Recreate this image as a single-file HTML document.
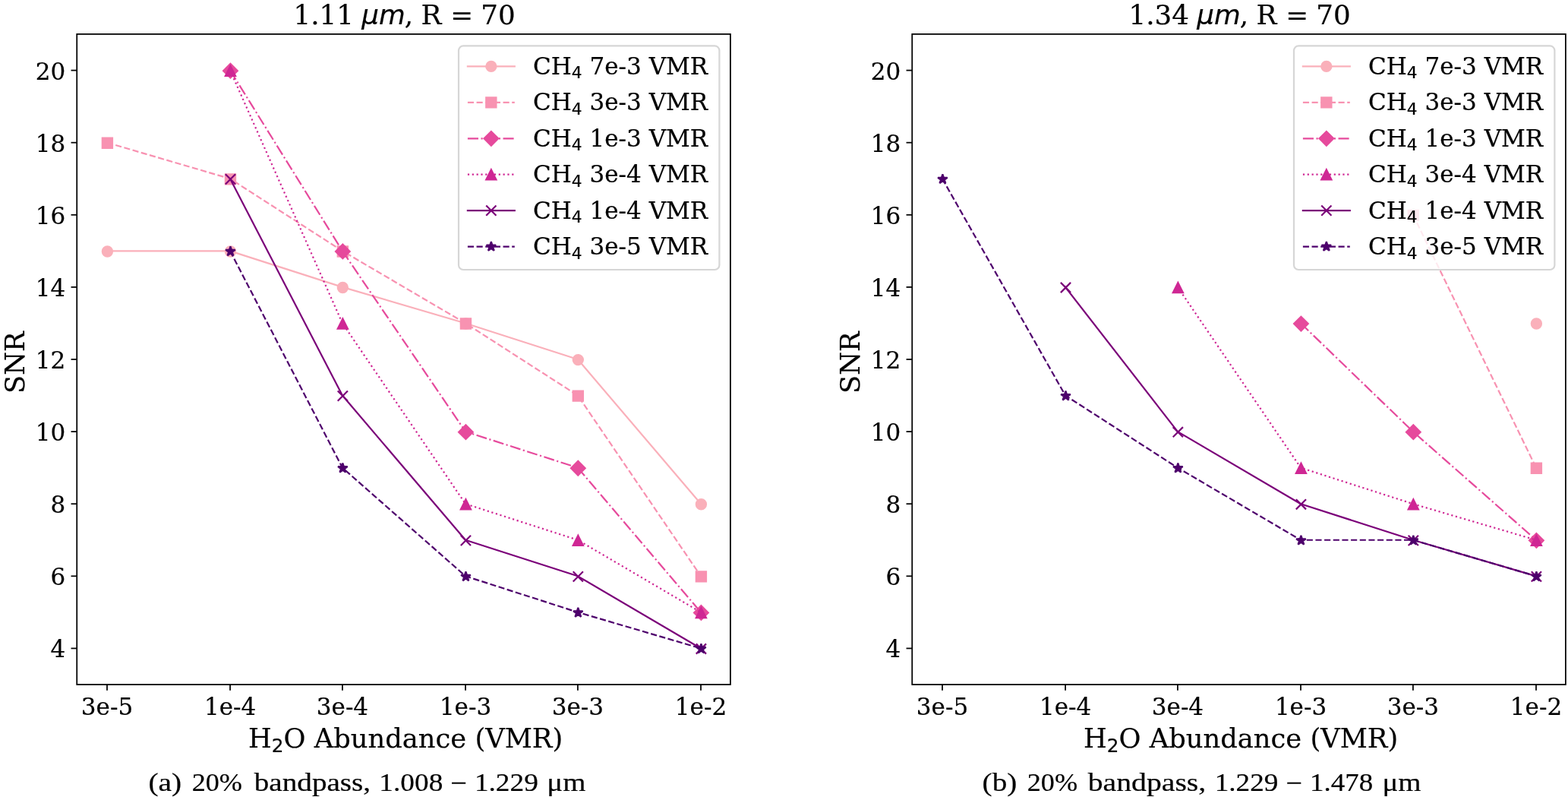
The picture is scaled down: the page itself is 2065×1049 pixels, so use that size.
<!DOCTYPE html>
<html><head><meta charset="utf-8"><title>SNR vs H2O Abundance</title>
<style>html,body{margin:0;padding:0;background:#fff;overflow:hidden;}svg{display:block;}text{fill:#000;stroke:#000;stroke-width:0.2px;}</style>
</head><body>
<svg width="2065" height="1049" viewBox="0 0 2065 1049">
<rect width="2065" height="1049" fill="#ffffff"/>
<g id="axes1">
<clipPath id="clip0"><rect x="101.25" y="44.9" width="860.65" height="856.1"/></clipPath>
<g clip-path="url(#clip0)">
<path d="M141.00 330.35L303.07 330.35L450.96 377.90L613.03 425.45L760.92 473.00L922.99 663.20" fill="none" stroke="#fab0ba" stroke-width="2.2" stroke-linecap="square" stroke-linejoin="round"/>
<circle cx="141.40" cy="330.95" r="6.6000000000000005" fill="#fab0ba" stroke="#fab0ba" stroke-width="2.2"/>
<circle cx="303.47" cy="330.95" r="6.6000000000000005" fill="#fab0ba" stroke="#fab0ba" stroke-width="2.2"/>
<circle cx="451.36" cy="378.50" r="6.6000000000000005" fill="#fab0ba" stroke="#fab0ba" stroke-width="2.2"/>
<circle cx="613.43" cy="426.05" r="6.6000000000000005" fill="#fab0ba" stroke="#fab0ba" stroke-width="2.2"/>
<circle cx="761.32" cy="473.60" r="6.6000000000000005" fill="#fab0ba" stroke="#fab0ba" stroke-width="2.2"/>
<circle cx="923.39" cy="663.80" r="6.6000000000000005" fill="#fab0ba" stroke="#fab0ba" stroke-width="2.2"/>
<path d="M141.00 187.70L303.07 235.25L450.96 330.35L613.03 425.45L760.92 520.55L922.99 758.30" fill="none" stroke="#f892b1" stroke-width="2.2" stroke-dasharray="8.140,3.520" stroke-linejoin="round"/>
<path transform="translate(141.40 188.30)" d="M-6.6000000000000005 6.6000000000000005L6.6000000000000005 6.6000000000000005L6.6000000000000005 -6.6000000000000005L-6.6000000000000005 -6.6000000000000005Z" fill="#f892b1" stroke="#f892b1" stroke-width="2.2" stroke-linejoin="miter"/>
<path transform="translate(303.47 235.85)" d="M-6.6000000000000005 6.6000000000000005L6.6000000000000005 6.6000000000000005L6.6000000000000005 -6.6000000000000005L-6.6000000000000005 -6.6000000000000005Z" fill="#f892b1" stroke="#f892b1" stroke-width="2.2" stroke-linejoin="miter"/>
<path transform="translate(451.36 330.95)" d="M-6.6000000000000005 6.6000000000000005L6.6000000000000005 6.6000000000000005L6.6000000000000005 -6.6000000000000005L-6.6000000000000005 -6.6000000000000005Z" fill="#f892b1" stroke="#f892b1" stroke-width="2.2" stroke-linejoin="miter"/>
<path transform="translate(613.43 426.05)" d="M-6.6000000000000005 6.6000000000000005L6.6000000000000005 6.6000000000000005L6.6000000000000005 -6.6000000000000005L-6.6000000000000005 -6.6000000000000005Z" fill="#f892b1" stroke="#f892b1" stroke-width="2.2" stroke-linejoin="miter"/>
<path transform="translate(761.32 521.15)" d="M-6.6000000000000005 6.6000000000000005L6.6000000000000005 6.6000000000000005L6.6000000000000005 -6.6000000000000005L-6.6000000000000005 -6.6000000000000005Z" fill="#f892b1" stroke="#f892b1" stroke-width="2.2" stroke-linejoin="miter"/>
<path transform="translate(923.39 758.90)" d="M-6.6000000000000005 6.6000000000000005L6.6000000000000005 6.6000000000000005L6.6000000000000005 -6.6000000000000005L-6.6000000000000005 -6.6000000000000005Z" fill="#f892b1" stroke="#f892b1" stroke-width="2.2" stroke-linejoin="miter"/>
<path d="M303.07 92.60L450.96 330.35L613.03 568.10L760.92 615.65L922.99 805.85" fill="none" stroke="#e64a9c" stroke-width="2.2" stroke-dasharray="14.080,3.520,2.200,3.520" stroke-linejoin="round"/>
<path transform="translate(303.47 93.20)" d="M0 9.334L9.334 0L0 -9.334L-9.334 0Z" fill="#e64a9c" stroke="#e64a9c" stroke-width="2.2" stroke-linejoin="miter"/>
<path transform="translate(451.36 330.95)" d="M0 9.334L9.334 0L0 -9.334L-9.334 0Z" fill="#e64a9c" stroke="#e64a9c" stroke-width="2.2" stroke-linejoin="miter"/>
<path transform="translate(613.43 568.70)" d="M0 9.334L9.334 0L0 -9.334L-9.334 0Z" fill="#e64a9c" stroke="#e64a9c" stroke-width="2.2" stroke-linejoin="miter"/>
<path transform="translate(761.32 616.25)" d="M0 9.334L9.334 0L0 -9.334L-9.334 0Z" fill="#e64a9c" stroke="#e64a9c" stroke-width="2.2" stroke-linejoin="miter"/>
<path transform="translate(923.39 806.45)" d="M0 9.334L9.334 0L0 -9.334L-9.334 0Z" fill="#e64a9c" stroke="#e64a9c" stroke-width="2.2" stroke-linejoin="miter"/>
<path d="M303.07 92.60L450.96 425.45L613.03 663.20L760.92 710.75L922.99 805.85" fill="none" stroke="#cf2794" stroke-width="2.2" stroke-dasharray="2.200,3.630" stroke-linejoin="round"/>
<path transform="translate(303.47 93.20)" d="M0 -6.6000000000000005L-6.6000000000000005 6.6000000000000005L6.6000000000000005 6.6000000000000005Z" fill="#cf2794" stroke="#cf2794" stroke-width="2.2" stroke-linejoin="miter"/>
<path transform="translate(451.36 426.05)" d="M0 -6.6000000000000005L-6.6000000000000005 6.6000000000000005L6.6000000000000005 6.6000000000000005Z" fill="#cf2794" stroke="#cf2794" stroke-width="2.2" stroke-linejoin="miter"/>
<path transform="translate(613.43 663.80)" d="M0 -6.6000000000000005L-6.6000000000000005 6.6000000000000005L6.6000000000000005 6.6000000000000005Z" fill="#cf2794" stroke="#cf2794" stroke-width="2.2" stroke-linejoin="miter"/>
<path transform="translate(761.32 711.35)" d="M0 -6.6000000000000005L-6.6000000000000005 6.6000000000000005L6.6000000000000005 6.6000000000000005Z" fill="#cf2794" stroke="#cf2794" stroke-width="2.2" stroke-linejoin="miter"/>
<path transform="translate(923.39 806.45)" d="M0 -6.6000000000000005L-6.6000000000000005 6.6000000000000005L6.6000000000000005 6.6000000000000005Z" fill="#cf2794" stroke="#cf2794" stroke-width="2.2" stroke-linejoin="miter"/>
<path d="M303.07 235.25L450.96 520.55L613.03 710.75L760.92 758.30L922.99 853.40" fill="none" stroke="#7b0179" stroke-width="2.2" stroke-linecap="square" stroke-linejoin="round"/>
<path transform="translate(303.47 235.85)" d="M-6.6000000000000005 6.6000000000000005L6.6000000000000005 -6.6000000000000005M-6.6000000000000005 -6.6000000000000005L6.6000000000000005 6.6000000000000005" fill="none" stroke="#7b0179" stroke-width="2.2" stroke-linejoin="round"/>
<path transform="translate(451.36 521.15)" d="M-6.6000000000000005 6.6000000000000005L6.6000000000000005 -6.6000000000000005M-6.6000000000000005 -6.6000000000000005L6.6000000000000005 6.6000000000000005" fill="none" stroke="#7b0179" stroke-width="2.2" stroke-linejoin="round"/>
<path transform="translate(613.43 711.35)" d="M-6.6000000000000005 6.6000000000000005L6.6000000000000005 -6.6000000000000005M-6.6000000000000005 -6.6000000000000005L6.6000000000000005 6.6000000000000005" fill="none" stroke="#7b0179" stroke-width="2.2" stroke-linejoin="round"/>
<path transform="translate(761.32 758.90)" d="M-6.6000000000000005 6.6000000000000005L6.6000000000000005 -6.6000000000000005M-6.6000000000000005 -6.6000000000000005L6.6000000000000005 6.6000000000000005" fill="none" stroke="#7b0179" stroke-width="2.2" stroke-linejoin="round"/>
<path transform="translate(923.39 854.00)" d="M-6.6000000000000005 6.6000000000000005L6.6000000000000005 -6.6000000000000005M-6.6000000000000005 -6.6000000000000005L6.6000000000000005 6.6000000000000005" fill="none" stroke="#7b0179" stroke-width="2.2" stroke-linejoin="round"/>
<path d="M303.07 330.35L450.96 615.65L613.03 758.30L760.92 805.85L922.99 853.40" fill="none" stroke="#4e006c" stroke-width="2.2" stroke-dasharray="8.140,3.520" stroke-linejoin="round"/>
<path transform="translate(303.47 330.95)" d="M0.000 -6.600L-1.482 -2.040L-6.277 -2.040L-2.398 0.779L-3.879 5.340L0.000 2.521L3.879 5.340L2.398 0.779L6.277 -2.040L1.482 -2.040Z" fill="#4e006c" stroke="#4e006c" stroke-width="2.2" stroke-linejoin="bevel"/>
<path transform="translate(451.36 616.25)" d="M0.000 -6.600L-1.482 -2.040L-6.277 -2.040L-2.398 0.779L-3.879 5.340L0.000 2.521L3.879 5.340L2.398 0.779L6.277 -2.040L1.482 -2.040Z" fill="#4e006c" stroke="#4e006c" stroke-width="2.2" stroke-linejoin="bevel"/>
<path transform="translate(613.43 758.90)" d="M0.000 -6.600L-1.482 -2.040L-6.277 -2.040L-2.398 0.779L-3.879 5.340L0.000 2.521L3.879 5.340L2.398 0.779L6.277 -2.040L1.482 -2.040Z" fill="#4e006c" stroke="#4e006c" stroke-width="2.2" stroke-linejoin="bevel"/>
<path transform="translate(761.32 806.45)" d="M0.000 -6.600L-1.482 -2.040L-6.277 -2.040L-2.398 0.779L-3.879 5.340L0.000 2.521L3.879 5.340L2.398 0.779L6.277 -2.040L1.482 -2.040Z" fill="#4e006c" stroke="#4e006c" stroke-width="2.2" stroke-linejoin="bevel"/>
<path transform="translate(923.39 854.00)" d="M0.000 -6.600L-1.482 -2.040L-6.277 -2.040L-2.398 0.779L-3.879 5.340L0.000 2.521L3.879 5.340L2.398 0.779L6.277 -2.040L1.482 -2.040Z" fill="#4e006c" stroke="#4e006c" stroke-width="2.2" stroke-linejoin="bevel"/>
</g>
<rect x="101.25" y="44.9" width="860.65" height="856.1" fill="none" stroke="#000" stroke-width="1.76" stroke-linejoin="miter" stroke-linecap="square"/>
<line x1="141.00" y1="901.0" x2="141.00" y2="908.7" stroke="#000" stroke-width="1.76"/>
<text x="141.00" y="940.6" font-family="'DejaVu Serif', 'Liberation Serif', serif" font-size="31" text-anchor="middle">3e-5</text>
<line x1="303.07" y1="901.0" x2="303.07" y2="908.7" stroke="#000" stroke-width="1.76"/>
<text x="303.07" y="940.6" font-family="'DejaVu Serif', 'Liberation Serif', serif" font-size="31" text-anchor="middle">1e-4</text>
<line x1="450.96" y1="901.0" x2="450.96" y2="908.7" stroke="#000" stroke-width="1.76"/>
<text x="450.96" y="940.6" font-family="'DejaVu Serif', 'Liberation Serif', serif" font-size="31" text-anchor="middle">3e-4</text>
<line x1="613.03" y1="901.0" x2="613.03" y2="908.7" stroke="#000" stroke-width="1.76"/>
<text x="613.03" y="940.6" font-family="'DejaVu Serif', 'Liberation Serif', serif" font-size="31" text-anchor="middle">1e-3</text>
<line x1="760.92" y1="901.0" x2="760.92" y2="908.7" stroke="#000" stroke-width="1.76"/>
<text x="760.92" y="940.6" font-family="'DejaVu Serif', 'Liberation Serif', serif" font-size="31" text-anchor="middle">3e-3</text>
<line x1="922.99" y1="901.0" x2="922.99" y2="908.7" stroke="#000" stroke-width="1.76"/>
<text x="922.99" y="940.6" font-family="'DejaVu Serif', 'Liberation Serif', serif" font-size="31" text-anchor="middle">1e-2</text>
<line x1="101.25" y1="853.40" x2="93.55" y2="853.40" stroke="#000" stroke-width="1.76"/>
<text x="86.3" y="865.30" font-family="'DejaVu Serif', 'Liberation Serif', serif" font-size="31" text-anchor="end">4</text>
<line x1="101.25" y1="758.30" x2="93.55" y2="758.30" stroke="#000" stroke-width="1.76"/>
<text x="86.3" y="770.20" font-family="'DejaVu Serif', 'Liberation Serif', serif" font-size="31" text-anchor="end">6</text>
<line x1="101.25" y1="663.20" x2="93.55" y2="663.20" stroke="#000" stroke-width="1.76"/>
<text x="86.3" y="675.10" font-family="'DejaVu Serif', 'Liberation Serif', serif" font-size="31" text-anchor="end">8</text>
<line x1="101.25" y1="568.10" x2="93.55" y2="568.10" stroke="#000" stroke-width="1.76"/>
<text x="86.3" y="580.00" font-family="'DejaVu Serif', 'Liberation Serif', serif" font-size="31" text-anchor="end">10</text>
<line x1="101.25" y1="473.00" x2="93.55" y2="473.00" stroke="#000" stroke-width="1.76"/>
<text x="86.3" y="484.90" font-family="'DejaVu Serif', 'Liberation Serif', serif" font-size="31" text-anchor="end">12</text>
<line x1="101.25" y1="377.90" x2="93.55" y2="377.90" stroke="#000" stroke-width="1.76"/>
<text x="86.3" y="389.80" font-family="'DejaVu Serif', 'Liberation Serif', serif" font-size="31" text-anchor="end">14</text>
<line x1="101.25" y1="282.80" x2="93.55" y2="282.80" stroke="#000" stroke-width="1.76"/>
<text x="86.3" y="294.70" font-family="'DejaVu Serif', 'Liberation Serif', serif" font-size="31" text-anchor="end">16</text>
<line x1="101.25" y1="187.70" x2="93.55" y2="187.70" stroke="#000" stroke-width="1.76"/>
<text x="86.3" y="199.60" font-family="'DejaVu Serif', 'Liberation Serif', serif" font-size="31" text-anchor="end">18</text>
<line x1="101.25" y1="92.60" x2="93.55" y2="92.60" stroke="#000" stroke-width="1.76"/>
<text x="86.3" y="104.50" font-family="'DejaVu Serif', 'Liberation Serif', serif" font-size="31" text-anchor="end">20</text>
<text x="327.0" y="984.2" font-family="'DejaVu Serif', 'Liberation Serif', serif" font-size="35.3">H<tspan font-family="'DejaVu Sans', 'Liberation Sans', sans-serif" font-size="24.71" dy="6.0">2</tspan><tspan dy="-6.0">O Abundance (VMR)</tspan></text>
<text transform="translate(32.0 477.2) rotate(-90)" font-family="'DejaVu Serif', 'Liberation Serif', serif" font-size="35.3" text-anchor="middle">SNR</text>
<text y="31.9" font-family="'DejaVu Serif', 'Liberation Serif', serif" font-size="35.7"><tspan x="386.44">1.11 </tspan><tspan x="476.29" font-family="'DejaVu Sans', 'Liberation Sans', sans-serif" font-style="italic">μm</tspan><tspan x="532.83">, </tspan><tspan x="554.61">R </tspan><tspan x="593.32">= </tspan><tspan x="633.20">70</tspan></text>
<rect x="604.0" y="60.4" width="343.4" height="294.6" rx="6.16" fill="#ffffff" fill-opacity="0.8" stroke="#cccccc" stroke-opacity="0.8" stroke-width="2.2"/>
<path d="M615.90 87.40L677.80 87.40" fill="none" stroke="#fab0ba" stroke-width="2.2" stroke-linecap="square" stroke-linejoin="round"/>
<circle cx="646.85" cy="87.40" r="6.6000000000000005" fill="#fab0ba" stroke="#fab0ba" stroke-width="2.2"/>
<text x="702.1" y="98.00" font-family="'DejaVu Serif', 'Liberation Serif', serif" font-size="31">CH<tspan font-family="'DejaVu Sans', 'Liberation Sans', sans-serif" font-size="21.70" dy="5.4">4</tspan><tspan dy="-5.4"> 7e-3 VMR</tspan></text>
<path d="M615.90 134.84L677.80 134.84" fill="none" stroke="#f892b1" stroke-width="2.2" stroke-dasharray="8.140,3.520" stroke-linejoin="round"/>
<path transform="translate(646.85 134.84)" d="M-6.6000000000000005 6.6000000000000005L6.6000000000000005 6.6000000000000005L6.6000000000000005 -6.6000000000000005L-6.6000000000000005 -6.6000000000000005Z" fill="#f892b1" stroke="#f892b1" stroke-width="2.2" stroke-linejoin="miter"/>
<text x="702.1" y="145.44" font-family="'DejaVu Serif', 'Liberation Serif', serif" font-size="31">CH<tspan font-family="'DejaVu Sans', 'Liberation Sans', sans-serif" font-size="21.70" dy="5.4">4</tspan><tspan dy="-5.4"> 3e-3 VMR</tspan></text>
<path d="M615.90 182.28L677.80 182.28" fill="none" stroke="#e64a9c" stroke-width="2.2" stroke-dasharray="14.080,3.520,2.200,3.520" stroke-linejoin="round"/>
<path transform="translate(646.85 182.28)" d="M0 9.334L9.334 0L0 -9.334L-9.334 0Z" fill="#e64a9c" stroke="#e64a9c" stroke-width="2.2" stroke-linejoin="miter"/>
<text x="702.1" y="192.88" font-family="'DejaVu Serif', 'Liberation Serif', serif" font-size="31">CH<tspan font-family="'DejaVu Sans', 'Liberation Sans', sans-serif" font-size="21.70" dy="5.4">4</tspan><tspan dy="-5.4"> 1e-3 VMR</tspan></text>
<path d="M615.90 229.72L677.80 229.72" fill="none" stroke="#cf2794" stroke-width="2.2" stroke-dasharray="2.200,3.630" stroke-linejoin="round"/>
<path transform="translate(646.85 229.72)" d="M0 -6.6000000000000005L-6.6000000000000005 6.6000000000000005L6.6000000000000005 6.6000000000000005Z" fill="#cf2794" stroke="#cf2794" stroke-width="2.2" stroke-linejoin="miter"/>
<text x="702.1" y="240.32" font-family="'DejaVu Serif', 'Liberation Serif', serif" font-size="31">CH<tspan font-family="'DejaVu Sans', 'Liberation Sans', sans-serif" font-size="21.70" dy="5.4">4</tspan><tspan dy="-5.4"> 3e-4 VMR</tspan></text>
<path d="M615.90 277.16L677.80 277.16" fill="none" stroke="#7b0179" stroke-width="2.2" stroke-linecap="square" stroke-linejoin="round"/>
<path transform="translate(646.85 277.16)" d="M-6.6000000000000005 6.6000000000000005L6.6000000000000005 -6.6000000000000005M-6.6000000000000005 -6.6000000000000005L6.6000000000000005 6.6000000000000005" fill="none" stroke="#7b0179" stroke-width="2.2" stroke-linejoin="round"/>
<text x="702.1" y="287.76" font-family="'DejaVu Serif', 'Liberation Serif', serif" font-size="31">CH<tspan font-family="'DejaVu Sans', 'Liberation Sans', sans-serif" font-size="21.70" dy="5.4">4</tspan><tspan dy="-5.4"> 1e-4 VMR</tspan></text>
<path d="M615.90 324.60L677.80 324.60" fill="none" stroke="#4e006c" stroke-width="2.2" stroke-dasharray="8.140,3.520" stroke-linejoin="round"/>
<path transform="translate(646.85 324.60)" d="M0.000 -6.600L-1.482 -2.040L-6.277 -2.040L-2.398 0.779L-3.879 5.340L0.000 2.521L3.879 5.340L2.398 0.779L6.277 -2.040L1.482 -2.040Z" fill="#4e006c" stroke="#4e006c" stroke-width="2.2" stroke-linejoin="bevel"/>
<text x="702.1" y="335.20" font-family="'DejaVu Serif', 'Liberation Serif', serif" font-size="31">CH<tspan font-family="'DejaVu Sans', 'Liberation Sans', sans-serif" font-size="21.70" dy="5.4">4</tspan><tspan dy="-5.4"> 3e-5 VMR</tspan></text>
</g>
<g id="axes2">
<clipPath id="clip1"><rect x="1201.25" y="44.9" width="860.65" height="856.1"/></clipPath>
<g clip-path="url(#clip1)">
<circle cx="2023.39" cy="426.05" r="6.6000000000000005" fill="#fab0ba" stroke="#fab0ba" stroke-width="2.2"/>
<path d="M1860.92 282.80L2022.99 615.65" fill="none" stroke="#f892b1" stroke-width="2.2" stroke-dasharray="8.140,3.520" stroke-linejoin="round"/>
<path transform="translate(1861.32 283.40)" d="M-6.6000000000000005 6.6000000000000005L6.6000000000000005 6.6000000000000005L6.6000000000000005 -6.6000000000000005L-6.6000000000000005 -6.6000000000000005Z" fill="#f892b1" stroke="#f892b1" stroke-width="2.2" stroke-linejoin="miter"/>
<path transform="translate(2023.39 616.25)" d="M-6.6000000000000005 6.6000000000000005L6.6000000000000005 6.6000000000000005L6.6000000000000005 -6.6000000000000005L-6.6000000000000005 -6.6000000000000005Z" fill="#f892b1" stroke="#f892b1" stroke-width="2.2" stroke-linejoin="miter"/>
<path d="M1713.03 425.45L1860.92 568.10L2022.99 710.75" fill="none" stroke="#e64a9c" stroke-width="2.2" stroke-dasharray="14.080,3.520,2.200,3.520" stroke-linejoin="round"/>
<path transform="translate(1713.43 426.05)" d="M0 9.334L9.334 0L0 -9.334L-9.334 0Z" fill="#e64a9c" stroke="#e64a9c" stroke-width="2.2" stroke-linejoin="miter"/>
<path transform="translate(1861.32 568.70)" d="M0 9.334L9.334 0L0 -9.334L-9.334 0Z" fill="#e64a9c" stroke="#e64a9c" stroke-width="2.2" stroke-linejoin="miter"/>
<path transform="translate(2023.39 711.35)" d="M0 9.334L9.334 0L0 -9.334L-9.334 0Z" fill="#e64a9c" stroke="#e64a9c" stroke-width="2.2" stroke-linejoin="miter"/>
<path d="M1550.96 377.90L1713.03 615.65L1860.92 663.20L2022.99 710.75" fill="none" stroke="#cf2794" stroke-width="2.2" stroke-dasharray="2.200,3.630" stroke-linejoin="round"/>
<path transform="translate(1551.36 378.50)" d="M0 -6.6000000000000005L-6.6000000000000005 6.6000000000000005L6.6000000000000005 6.6000000000000005Z" fill="#cf2794" stroke="#cf2794" stroke-width="2.2" stroke-linejoin="miter"/>
<path transform="translate(1713.43 616.25)" d="M0 -6.6000000000000005L-6.6000000000000005 6.6000000000000005L6.6000000000000005 6.6000000000000005Z" fill="#cf2794" stroke="#cf2794" stroke-width="2.2" stroke-linejoin="miter"/>
<path transform="translate(1861.32 663.80)" d="M0 -6.6000000000000005L-6.6000000000000005 6.6000000000000005L6.6000000000000005 6.6000000000000005Z" fill="#cf2794" stroke="#cf2794" stroke-width="2.2" stroke-linejoin="miter"/>
<path transform="translate(2023.39 711.35)" d="M0 -6.6000000000000005L-6.6000000000000005 6.6000000000000005L6.6000000000000005 6.6000000000000005Z" fill="#cf2794" stroke="#cf2794" stroke-width="2.2" stroke-linejoin="miter"/>
<path d="M1403.07 377.90L1550.96 568.10L1713.03 663.20L1860.92 710.75L2022.99 758.30" fill="none" stroke="#7b0179" stroke-width="2.2" stroke-linecap="square" stroke-linejoin="round"/>
<path transform="translate(1403.47 378.50)" d="M-6.6000000000000005 6.6000000000000005L6.6000000000000005 -6.6000000000000005M-6.6000000000000005 -6.6000000000000005L6.6000000000000005 6.6000000000000005" fill="none" stroke="#7b0179" stroke-width="2.2" stroke-linejoin="round"/>
<path transform="translate(1551.36 568.70)" d="M-6.6000000000000005 6.6000000000000005L6.6000000000000005 -6.6000000000000005M-6.6000000000000005 -6.6000000000000005L6.6000000000000005 6.6000000000000005" fill="none" stroke="#7b0179" stroke-width="2.2" stroke-linejoin="round"/>
<path transform="translate(1713.43 663.80)" d="M-6.6000000000000005 6.6000000000000005L6.6000000000000005 -6.6000000000000005M-6.6000000000000005 -6.6000000000000005L6.6000000000000005 6.6000000000000005" fill="none" stroke="#7b0179" stroke-width="2.2" stroke-linejoin="round"/>
<path transform="translate(1861.32 711.35)" d="M-6.6000000000000005 6.6000000000000005L6.6000000000000005 -6.6000000000000005M-6.6000000000000005 -6.6000000000000005L6.6000000000000005 6.6000000000000005" fill="none" stroke="#7b0179" stroke-width="2.2" stroke-linejoin="round"/>
<path transform="translate(2023.39 758.90)" d="M-6.6000000000000005 6.6000000000000005L6.6000000000000005 -6.6000000000000005M-6.6000000000000005 -6.6000000000000005L6.6000000000000005 6.6000000000000005" fill="none" stroke="#7b0179" stroke-width="2.2" stroke-linejoin="round"/>
<path d="M1241.00 235.25L1403.07 520.55L1550.96 615.65L1713.03 710.75L1860.92 710.75L2022.99 758.30" fill="none" stroke="#4e006c" stroke-width="2.2" stroke-dasharray="8.140,3.520" stroke-linejoin="round"/>
<path transform="translate(1241.40 235.85)" d="M0.000 -6.600L-1.482 -2.040L-6.277 -2.040L-2.398 0.779L-3.879 5.340L0.000 2.521L3.879 5.340L2.398 0.779L6.277 -2.040L1.482 -2.040Z" fill="#4e006c" stroke="#4e006c" stroke-width="2.2" stroke-linejoin="bevel"/>
<path transform="translate(1403.47 521.15)" d="M0.000 -6.600L-1.482 -2.040L-6.277 -2.040L-2.398 0.779L-3.879 5.340L0.000 2.521L3.879 5.340L2.398 0.779L6.277 -2.040L1.482 -2.040Z" fill="#4e006c" stroke="#4e006c" stroke-width="2.2" stroke-linejoin="bevel"/>
<path transform="translate(1551.36 616.25)" d="M0.000 -6.600L-1.482 -2.040L-6.277 -2.040L-2.398 0.779L-3.879 5.340L0.000 2.521L3.879 5.340L2.398 0.779L6.277 -2.040L1.482 -2.040Z" fill="#4e006c" stroke="#4e006c" stroke-width="2.2" stroke-linejoin="bevel"/>
<path transform="translate(1713.43 711.35)" d="M0.000 -6.600L-1.482 -2.040L-6.277 -2.040L-2.398 0.779L-3.879 5.340L0.000 2.521L3.879 5.340L2.398 0.779L6.277 -2.040L1.482 -2.040Z" fill="#4e006c" stroke="#4e006c" stroke-width="2.2" stroke-linejoin="bevel"/>
<path transform="translate(1861.32 711.35)" d="M0.000 -6.600L-1.482 -2.040L-6.277 -2.040L-2.398 0.779L-3.879 5.340L0.000 2.521L3.879 5.340L2.398 0.779L6.277 -2.040L1.482 -2.040Z" fill="#4e006c" stroke="#4e006c" stroke-width="2.2" stroke-linejoin="bevel"/>
<path transform="translate(2023.39 758.90)" d="M0.000 -6.600L-1.482 -2.040L-6.277 -2.040L-2.398 0.779L-3.879 5.340L0.000 2.521L3.879 5.340L2.398 0.779L6.277 -2.040L1.482 -2.040Z" fill="#4e006c" stroke="#4e006c" stroke-width="2.2" stroke-linejoin="bevel"/>
</g>
<rect x="1201.25" y="44.9" width="860.65" height="856.1" fill="none" stroke="#000" stroke-width="1.76" stroke-linejoin="miter" stroke-linecap="square"/>
<line x1="1241.00" y1="901.0" x2="1241.00" y2="908.7" stroke="#000" stroke-width="1.76"/>
<text x="1241.00" y="940.6" font-family="'DejaVu Serif', 'Liberation Serif', serif" font-size="31" text-anchor="middle">3e-5</text>
<line x1="1403.07" y1="901.0" x2="1403.07" y2="908.7" stroke="#000" stroke-width="1.76"/>
<text x="1403.07" y="940.6" font-family="'DejaVu Serif', 'Liberation Serif', serif" font-size="31" text-anchor="middle">1e-4</text>
<line x1="1550.96" y1="901.0" x2="1550.96" y2="908.7" stroke="#000" stroke-width="1.76"/>
<text x="1550.96" y="940.6" font-family="'DejaVu Serif', 'Liberation Serif', serif" font-size="31" text-anchor="middle">3e-4</text>
<line x1="1713.03" y1="901.0" x2="1713.03" y2="908.7" stroke="#000" stroke-width="1.76"/>
<text x="1713.03" y="940.6" font-family="'DejaVu Serif', 'Liberation Serif', serif" font-size="31" text-anchor="middle">1e-3</text>
<line x1="1860.92" y1="901.0" x2="1860.92" y2="908.7" stroke="#000" stroke-width="1.76"/>
<text x="1860.92" y="940.6" font-family="'DejaVu Serif', 'Liberation Serif', serif" font-size="31" text-anchor="middle">3e-3</text>
<line x1="2022.99" y1="901.0" x2="2022.99" y2="908.7" stroke="#000" stroke-width="1.76"/>
<text x="2022.99" y="940.6" font-family="'DejaVu Serif', 'Liberation Serif', serif" font-size="31" text-anchor="middle">1e-2</text>
<line x1="1201.25" y1="853.40" x2="1193.55" y2="853.40" stroke="#000" stroke-width="1.76"/>
<text x="1186.3" y="865.30" font-family="'DejaVu Serif', 'Liberation Serif', serif" font-size="31" text-anchor="end">4</text>
<line x1="1201.25" y1="758.30" x2="1193.55" y2="758.30" stroke="#000" stroke-width="1.76"/>
<text x="1186.3" y="770.20" font-family="'DejaVu Serif', 'Liberation Serif', serif" font-size="31" text-anchor="end">6</text>
<line x1="1201.25" y1="663.20" x2="1193.55" y2="663.20" stroke="#000" stroke-width="1.76"/>
<text x="1186.3" y="675.10" font-family="'DejaVu Serif', 'Liberation Serif', serif" font-size="31" text-anchor="end">8</text>
<line x1="1201.25" y1="568.10" x2="1193.55" y2="568.10" stroke="#000" stroke-width="1.76"/>
<text x="1186.3" y="580.00" font-family="'DejaVu Serif', 'Liberation Serif', serif" font-size="31" text-anchor="end">10</text>
<line x1="1201.25" y1="473.00" x2="1193.55" y2="473.00" stroke="#000" stroke-width="1.76"/>
<text x="1186.3" y="484.90" font-family="'DejaVu Serif', 'Liberation Serif', serif" font-size="31" text-anchor="end">12</text>
<line x1="1201.25" y1="377.90" x2="1193.55" y2="377.90" stroke="#000" stroke-width="1.76"/>
<text x="1186.3" y="389.80" font-family="'DejaVu Serif', 'Liberation Serif', serif" font-size="31" text-anchor="end">14</text>
<line x1="1201.25" y1="282.80" x2="1193.55" y2="282.80" stroke="#000" stroke-width="1.76"/>
<text x="1186.3" y="294.70" font-family="'DejaVu Serif', 'Liberation Serif', serif" font-size="31" text-anchor="end">16</text>
<line x1="1201.25" y1="187.70" x2="1193.55" y2="187.70" stroke="#000" stroke-width="1.76"/>
<text x="1186.3" y="199.60" font-family="'DejaVu Serif', 'Liberation Serif', serif" font-size="31" text-anchor="end">18</text>
<line x1="1201.25" y1="92.60" x2="1193.55" y2="92.60" stroke="#000" stroke-width="1.76"/>
<text x="1186.3" y="104.50" font-family="'DejaVu Serif', 'Liberation Serif', serif" font-size="31" text-anchor="end">20</text>
<text x="1427.0" y="984.2" font-family="'DejaVu Serif', 'Liberation Serif', serif" font-size="35.3">H<tspan font-family="'DejaVu Sans', 'Liberation Sans', sans-serif" font-size="24.71" dy="6.0">2</tspan><tspan dy="-6.0">O Abundance (VMR)</tspan></text>
<text transform="translate(1132.0 477.2) rotate(-90)" font-family="'DejaVu Serif', 'Liberation Serif', serif" font-size="35.3" text-anchor="middle">SNR</text>
<text y="31.9" font-family="'DejaVu Serif', 'Liberation Serif', serif" font-size="35.7"><tspan x="1486.44">1.34 </tspan><tspan x="1576.29" font-family="'DejaVu Sans', 'Liberation Sans', sans-serif" font-style="italic">μm</tspan><tspan x="1632.83">, </tspan><tspan x="1654.61">R </tspan><tspan x="1693.32">= </tspan><tspan x="1733.20">70</tspan></text>
<rect x="1704.0" y="60.4" width="343.4" height="294.6" rx="6.16" fill="#ffffff" fill-opacity="0.8" stroke="#cccccc" stroke-opacity="0.8" stroke-width="2.2"/>
<path d="M1715.90 87.40L1777.80 87.40" fill="none" stroke="#fab0ba" stroke-width="2.2" stroke-linecap="square" stroke-linejoin="round"/>
<circle cx="1746.85" cy="87.40" r="6.6000000000000005" fill="#fab0ba" stroke="#fab0ba" stroke-width="2.2"/>
<text x="1802.1" y="98.00" font-family="'DejaVu Serif', 'Liberation Serif', serif" font-size="31">CH<tspan font-family="'DejaVu Sans', 'Liberation Sans', sans-serif" font-size="21.70" dy="5.4">4</tspan><tspan dy="-5.4"> 7e-3 VMR</tspan></text>
<path d="M1715.90 134.84L1777.80 134.84" fill="none" stroke="#f892b1" stroke-width="2.2" stroke-dasharray="8.140,3.520" stroke-linejoin="round"/>
<path transform="translate(1746.85 134.84)" d="M-6.6000000000000005 6.6000000000000005L6.6000000000000005 6.6000000000000005L6.6000000000000005 -6.6000000000000005L-6.6000000000000005 -6.6000000000000005Z" fill="#f892b1" stroke="#f892b1" stroke-width="2.2" stroke-linejoin="miter"/>
<text x="1802.1" y="145.44" font-family="'DejaVu Serif', 'Liberation Serif', serif" font-size="31">CH<tspan font-family="'DejaVu Sans', 'Liberation Sans', sans-serif" font-size="21.70" dy="5.4">4</tspan><tspan dy="-5.4"> 3e-3 VMR</tspan></text>
<path d="M1715.90 182.28L1777.80 182.28" fill="none" stroke="#e64a9c" stroke-width="2.2" stroke-dasharray="14.080,3.520,2.200,3.520" stroke-linejoin="round"/>
<path transform="translate(1746.85 182.28)" d="M0 9.334L9.334 0L0 -9.334L-9.334 0Z" fill="#e64a9c" stroke="#e64a9c" stroke-width="2.2" stroke-linejoin="miter"/>
<text x="1802.1" y="192.88" font-family="'DejaVu Serif', 'Liberation Serif', serif" font-size="31">CH<tspan font-family="'DejaVu Sans', 'Liberation Sans', sans-serif" font-size="21.70" dy="5.4">4</tspan><tspan dy="-5.4"> 1e-3 VMR</tspan></text>
<path d="M1715.90 229.72L1777.80 229.72" fill="none" stroke="#cf2794" stroke-width="2.2" stroke-dasharray="2.200,3.630" stroke-linejoin="round"/>
<path transform="translate(1746.85 229.72)" d="M0 -6.6000000000000005L-6.6000000000000005 6.6000000000000005L6.6000000000000005 6.6000000000000005Z" fill="#cf2794" stroke="#cf2794" stroke-width="2.2" stroke-linejoin="miter"/>
<text x="1802.1" y="240.32" font-family="'DejaVu Serif', 'Liberation Serif', serif" font-size="31">CH<tspan font-family="'DejaVu Sans', 'Liberation Sans', sans-serif" font-size="21.70" dy="5.4">4</tspan><tspan dy="-5.4"> 3e-4 VMR</tspan></text>
<path d="M1715.90 277.16L1777.80 277.16" fill="none" stroke="#7b0179" stroke-width="2.2" stroke-linecap="square" stroke-linejoin="round"/>
<path transform="translate(1746.85 277.16)" d="M-6.6000000000000005 6.6000000000000005L6.6000000000000005 -6.6000000000000005M-6.6000000000000005 -6.6000000000000005L6.6000000000000005 6.6000000000000005" fill="none" stroke="#7b0179" stroke-width="2.2" stroke-linejoin="round"/>
<text x="1802.1" y="287.76" font-family="'DejaVu Serif', 'Liberation Serif', serif" font-size="31">CH<tspan font-family="'DejaVu Sans', 'Liberation Sans', sans-serif" font-size="21.70" dy="5.4">4</tspan><tspan dy="-5.4"> 1e-4 VMR</tspan></text>
<path d="M1715.90 324.60L1777.80 324.60" fill="none" stroke="#4e006c" stroke-width="2.2" stroke-dasharray="8.140,3.520" stroke-linejoin="round"/>
<path transform="translate(1746.85 324.60)" d="M0.000 -6.600L-1.482 -2.040L-6.277 -2.040L-2.398 0.779L-3.879 5.340L0.000 2.521L3.879 5.340L2.398 0.779L6.277 -2.040L1.482 -2.040Z" fill="#4e006c" stroke="#4e006c" stroke-width="2.2" stroke-linejoin="bevel"/>
<text x="1802.1" y="335.20" font-family="'DejaVu Serif', 'Liberation Serif', serif" font-size="31">CH<tspan font-family="'DejaVu Sans', 'Liberation Sans', sans-serif" font-size="21.70" dy="5.4">4</tspan><tspan dy="-5.4"> 3e-5 VMR</tspan></text>
</g>
<text x="195.47" y="1040.60" font-family="'Liberation Serif', 'DejaVu Serif', serif" font-size="34.5" textLength="43.74" lengthAdjust="spacingAndGlyphs">(a)</text>
<text x="252.66" y="1040.60" font-family="'Liberation Serif', 'DejaVu Serif', serif" font-size="34.5" textLength="66.37" lengthAdjust="spacingAndGlyphs">20%</text>
<text x="334.81" y="1040.60" font-family="'Liberation Serif', 'DejaVu Serif', serif" font-size="34.5" textLength="153.31" lengthAdjust="spacingAndGlyphs">bandpass,</text>
<text x="499.39" y="1040.60" font-family="'Liberation Serif', 'DejaVu Serif', serif" font-size="34.5" textLength="83.93" lengthAdjust="spacingAndGlyphs">1.008</text>
<text x="593.03" y="1042.20" font-family="'Liberation Serif', 'DejaVu Serif', serif" font-size="34.5" textLength="21.78" lengthAdjust="spacingAndGlyphs">−</text>
<text x="624.90" y="1040.60" font-family="'Liberation Serif', 'DejaVu Serif', serif" font-size="34.5" textLength="83.90" lengthAdjust="spacingAndGlyphs">1.229</text>
<text x="720.35" y="1040.60" font-family="'Liberation Serif', 'DejaVu Serif', serif" font-size="34.5" textLength="51.03" lengthAdjust="spacingAndGlyphs">μm</text>
<text x="1293.63" y="1040.60" font-family="'Liberation Serif', 'DejaVu Serif', serif" font-size="34.5" textLength="45.75" lengthAdjust="spacingAndGlyphs">(b)</text>
<text x="1352.69" y="1040.60" font-family="'Liberation Serif', 'DejaVu Serif', serif" font-size="34.5" textLength="66.41" lengthAdjust="spacingAndGlyphs">20%</text>
<text x="1432.76" y="1040.60" font-family="'Liberation Serif', 'DejaVu Serif', serif" font-size="34.5" textLength="155.46" lengthAdjust="spacingAndGlyphs">bandpass,</text>
<text x="1599.69" y="1040.60" font-family="'Liberation Serif', 'DejaVu Serif', serif" font-size="34.5" textLength="83.80" lengthAdjust="spacingAndGlyphs">1.229</text>
<text x="1693.28" y="1042.20" font-family="'Liberation Serif', 'DejaVu Serif', serif" font-size="34.5" textLength="21.64" lengthAdjust="spacingAndGlyphs">−</text>
<text x="1725.04" y="1040.60" font-family="'Liberation Serif', 'DejaVu Serif', serif" font-size="34.5" textLength="83.15" lengthAdjust="spacingAndGlyphs">1.478</text>
<text x="1820.48" y="1040.60" font-family="'Liberation Serif', 'DejaVu Serif', serif" font-size="34.5" textLength="51.10" lengthAdjust="spacingAndGlyphs">μm</text>
</svg>
</body></html>
